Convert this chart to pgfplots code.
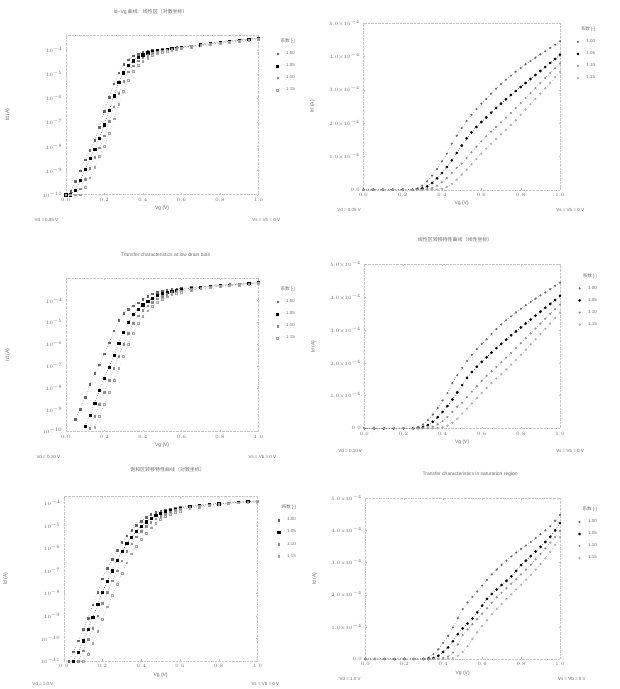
\documentclass[border=0pt]{standalone}
\usepackage{pgfplots}
\pgfplotsset{compat=1.18}
\usepackage{pgfplotstable}
\usepackage{fontspec}
\setmainfont{Liberation Sans}
\newfontfamily\cjk{Noto Sans CJK SC}

\definecolor{ink}{gray}{0.42}

% log10(Id) against Vg, left column
\pgfplotstableread{
x c1 c2 c3 c4
0.000 -10 -10 -10 -10
0.025 -9.85 -10 -10 -10
0.050 -9.45 -9.8 -10 -10
0.075 -9.0 -9.4 -9.75 -10
0.100 -8.55 -8.95 -9.35 -9.7
0.125 -8.15 -8.5 -8.9 -9.3
0.150 -7.75 -8.1 -8.45 -8.85
0.175 -7.2 -7.65 -8.05 -8.4
0.200 -6.55 -7.1 -7.55 -8.0
0.225 -5.95 -6.5 -6.95 -7.45
0.250 -5.4 -5.9 -6.35 -6.85
0.275 -4.95 -5.35 -5.8 -6.25
0.300 -4.6 -4.95 -5.3 -5.7
0.325 -4.4 -4.65 -4.9 -5.25
0.350 -4.25 -4.45 -4.65 -4.9
0.375 -4.17 -4.3 -4.45 -4.65
0.400 -4.1 -4.2 -4.32 -4.47
0.425 -4.06 -4.12 -4.22 -4.33
0.450 -4.02 -4.07 -4.14 -4.23
0.475 -4.0 -4.03 -4.09 -4.15
0.500 -3.97 -4.0 -4.04 -4.09
0.525 -3.95 -3.97 -4.0 -4.04
0.550 -3.92 -3.94 -3.97 -4.0
0.575 -3.9 -3.92 -3.94 -3.96
0.600 -3.87 -3.89 -3.91 -3.93
0.650 -3.82 -3.84 -3.86 -3.88
0.700 -3.77 -3.79 -3.81 -3.83
0.750 -3.72 -3.74 -3.76 -3.78
0.800 -3.67 -3.69 -3.71 -3.73
0.850 -3.62 -3.64 -3.66 -3.68
0.900 -3.58 -3.6 -3.62 -3.64
0.950 -3.54 -3.56 -3.58 -3.6
1.000 -3.50 -3.52 -3.54 -3.56
}\tabTL

\pgfplotstableread{
x c1 c2 c3 c4
0.050 -9.45 nan nan nan
0.075 -9.0 nan nan nan
0.100 -8.45 -9.75 nan nan
0.125 -7.85 -9.25 -9.85 nan
0.150 -7.35 -8.7 -9.3 -9.8
0.175 -6.95 -8.1 -8.75 -9.3
0.200 -6.45 -7.55 -8.2 -8.75
0.225 -5.95 -7.05 -7.65 -8.2
0.250 -5.4 -6.5 -7.1 -7.65
0.275 -4.9 -5.95 -6.55 -7.1
0.300 -4.6 -5.45 -6.0 -6.55
0.325 -4.4 -5.0 -5.5 -6.0
0.350 -4.24 -4.65 -5.05 -5.5
0.375 -4.1 -4.4 -4.7 -5.05
0.400 -3.96 -4.2 -4.45 -4.72
0.425 -3.82 -4.03 -4.25 -4.47
0.450 -3.7 -3.9 -4.08 -4.28
0.475 -3.62 -3.78 -3.93 -4.1
0.500 -3.56 -3.68 -3.8 -3.95
0.525 -3.53 -3.62 -3.71 -3.83
0.550 -3.5 -3.57 -3.64 -3.73
0.575 -3.47 -3.53 -3.59 -3.66
0.600 -3.45 -3.5 -3.55 -3.61
0.650 -3.41 -3.45 -3.49 -3.53
0.700 -3.37 -3.4 -3.44 -3.47
0.750 -3.33 -3.36 -3.39 -3.42
0.800 -3.3 -3.32 -3.35 -3.37
0.850 -3.27 -3.29 -3.31 -3.33
0.900 -3.24 -3.25 -3.27 -3.29
0.950 -3.21 -3.22 -3.24 -3.25
1.000 -3.18 -3.19 -3.2 -3.21
}\tabML

\pgfplotstableread{
x c1 c2 c3 c4
0.025 -11.0 nan nan nan
0.050 -10.6 -11.0 nan nan
0.075 -10.1 -10.6 -11.0 nan
0.100 -9.6 -10.1 -10.55 -11.0
0.125 -9.1 -9.6 -10.05 -10.7
0.150 -8.5 -9.05 -9.55 -10.2
0.175 -7.95 -8.5 -9.0 -9.7
0.200 -7.35 -7.95 -8.45 -9.15
0.225 -6.9 -7.45 -7.95 -8.6
0.250 -6.5 -7.0 -7.45 -8.1
0.275 -6.1 -6.55 -7.0 -7.6
0.300 -5.75 -6.15 -6.55 -7.1
0.325 -5.45 -5.8 -6.15 -6.65
0.350 -5.2 -5.5 -5.8 -6.25
0.375 -4.98 -5.25 -5.5 -5.9
0.400 -4.8 -5.02 -5.25 -5.6
0.425 -4.64 -4.83 -5.03 -5.33
0.450 -4.5 -4.67 -4.85 -5.1
0.475 -4.42 -4.55 -4.7 -4.9
0.500 -4.35 -4.45 -4.58 -4.72
0.525 -4.3 -4.37 -4.48 -4.6
0.550 -4.25 -4.31 -4.4 -4.5
0.575 -4.21 -4.26 -4.33 -4.42
0.600 -4.18 -4.22 -4.28 -4.35
0.650 -4.13 -4.16 -4.2 -4.25
0.700 -4.09 -4.11 -4.14 -4.18
0.750 -4.05 -4.07 -4.09 -4.12
0.800 -4.02 -4.03 -4.05 -4.07
0.850 -3.99 -4.0 -4.01 -4.03
0.900 -3.96 -3.97 -3.98 -3.99
0.950 -3.93 -3.94 -3.95 -3.96
1.000 -3.9 -3.91 -3.92 -3.93
}\tabBL

% Id (x 1e-4 A) against Vg, right column
\pgfplotstableread{
x c1 c2 c3 c4
0.000 0 0 0 0
0.050 0 0 0 0
0.100 0 0 0 0
0.150 0 0 0 0
0.200 0 0 0 0
0.250 0.01 0 0 0
0.275 0.04 0.01 0 0
0.300 0.12 0.04 0 0
0.325 0.25 0.10 0.02 0
0.350 0.42 0.20 0.05 0
0.375 0.62 0.34 0.12 0.01
0.400 0.85 0.50 0.22 0.03
0.425 1.08 0.68 0.35 0.08
0.450 1.38 0.88 0.50 0.17
0.475 1.62 1.10 0.66 0.30
0.500 1.85 1.32 0.78 0.45
0.525 2.06 1.54 0.95 0.60
0.550 2.25 1.72 1.12 0.76
0.575 2.42 1.88 1.29 0.92
0.600 2.58 2.03 1.45 1.08
0.625 2.72 2.17 1.60 1.23
0.650 2.88 2.31 1.74 1.38
0.675 3.03 2.45 1.88 1.52
0.700 3.17 2.58 2.02 1.66
0.725 3.30 2.71 2.16 1.80
0.750 3.42 2.84 2.30 1.94
0.775 3.54 2.96 2.45 2.08
0.800 3.65 3.08 2.60 2.24
0.825 3.76 3.20 2.75 2.40
0.850 3.86 3.32 2.90 2.56
0.875 3.96 3.44 3.05 2.72
0.900 4.06 3.56 3.20 2.88
0.925 4.15 3.68 3.35 3.04
0.950 4.25 3.80 3.50 3.20
0.975 4.35 3.92 3.64 3.37
1.000 4.45 4.05 3.78 3.53
}\tabTR

\pgfplotstableread{
x c1 c2 c3 c4
0.000 0 0 0 0
0.050 0 0 0 0
0.100 0 0 0 0
0.150 0 0 0 0
0.200 0 0 0 0
0.250 0 0 0 0
0.300 0 0 0 0
0.325 0.04 0 0 0
0.350 0.15 0.03 0 0
0.375 0.30 0.10 0.01 0
0.400 0.50 0.22 0.03 0
0.425 0.72 0.36 0.08 0.01
0.450 0.98 0.55 0.20 0.03
0.475 1.27 0.77 0.45 0.10
0.500 1.55 0.95 0.74 0.22
0.525 1.76 1.10 0.92 0.40
0.550 1.93 1.26 1.08 0.62
0.575 2.10 1.45 1.24 0.83
0.600 2.28 1.66 1.41 1.02
0.625 2.46 1.87 1.58 1.20
0.650 2.63 2.02 1.75 1.40
0.675 2.78 2.16 1.92 1.56
0.700 2.93 2.30 2.06 1.71
0.725 3.06 2.43 2.20 1.86
0.750 3.19 2.57 2.34 2.01
0.775 3.31 2.74 2.48 2.16
0.800 3.42 2.92 2.63 2.31
0.825 3.53 3.06 2.78 2.46
0.850 3.64 3.20 2.93 2.62
0.875 3.76 3.34 3.10 2.78
0.900 3.88 3.49 3.27 2.95
0.925 4.00 3.64 3.44 3.13
0.950 4.13 3.80 3.62 3.33
0.975 4.30 4.00 3.80 3.55
1.000 4.48 4.23 3.99 3.79
}\tabBR

\pgfplotsset{
  panel/.style={
    scale only axis, clip=false, anchor=south west,
    xmin=0, xmax=1, xtick={0,0.2,0.4,0.6,0.8,1.0},
    xticklabel style={/pgf/number format/.cd, fixed, fixed zerofill, precision=1},
    axis line style={gray!45, densely dotted},
    major tick length=1.5bp, tick style={gray!50},
    ticklabel style={font=\fontsize{4.5}{5}\selectfont, text=ink},
    xlabel style={font=\fontsize{5}{6}\selectfont, text=ink, yshift=2bp},
    ylabel style={font=\fontsize{5}{6}\selectfont, text=ink},
    xlabel={Vg (V)}, ylabel={Id (A)},
    legend cell align=right,
    legend style={draw=none, fill=none, font=\fontsize{4.5}{5}\selectfont, text=ink, row sep=3.5bp, inner sep=0pt},
    legend image code/.code={\draw[##1] plot coordinates {(0bp,0bp)};},
  },
  leftpanel/.style={panel,
    ylabel style={at={(axis description cs:-0.27,0.5)}},
    cycle list={
      {black!60, line width=0.5pt, dotted, mark=square*, mark size=0.8pt, mark options={solid}},
      {black, line width=0.5pt, dotted, mark=square*, mark size=1.1pt, mark options={solid}},
      {black!45, line width=0.5pt, dotted, mark=square*, mark size=0.8pt, mark options={solid}},
      {black!35, line width=0.5pt, dotted, mark=square, mark size=0.9pt, mark options={solid}}},
  },
  rightpanel/.style={panel,
    ymin=0, ymax=5, ytick={0,1,2,3,4,5},
    yticklabels={$0.0$,$1.0{\times}10^{-4}$,$2.0{\times}10^{-4}$,$3.0{\times}10^{-4}$,$4.0{\times}10^{-4}$,$5.0{\times}10^{-4}$},
    ylabel style={at={(axis description cs:-0.23,0.5)}},
    cycle list={
      {black!60, line width=0.5pt, dotted, mark=*, mark size=0.8pt, mark options={solid}},
      {black, line width=0.5pt, dotted, mark=*, mark size=1.1pt, mark options={solid}},
      {black!45, line width=0.5pt, dotted, mark=*, mark size=0.8pt, mark options={solid}},
      {black!35, line width=0.5pt, dotted, mark=o, mark size=0.9pt, mark options={solid}}},
  },
}

\newcommand{\fourcurves}[1]{%
  \addlegendimage{empty legend}\addlegendentry{{\cjk 系数} [-]}
  \addplot table[x=x, y=c1] {#1}; \addlegendentry{1.00}
  \addplot table[x=x, y=c2] {#1}; \addlegendentry{1.05}
  \addplot table[x=x, y=c3] {#1}; \addlegendentry{1.10}
  \addplot table[x=x, y=c4] {#1}; \addlegendentry{1.15}
}
\newcommand{\cornertext}[4]{%
  \node[font=\fontsize{4.5}{5}\selectfont, text=ink, anchor=west] at (axis description cs:#1) {#2};
  \node[font=\fontsize{4.5}{5}\selectfont, text=ink, anchor=east] at (axis description cs:#3) {#4};
}

\begin{document}
\begin{tikzpicture}
\path (0bp,0bp) rectangle (620bp,689bp);

% top left
\begin{axis}[leftpanel, at={(65bp,494bp)}, width=193bp, height=160bp,
  ymin=-10, ymax=-3.38, ytick={-10,-9,...,-4},
  yticklabels={$10^{-10}$,$10^{-9}$,$10^{-8}$,$10^{-7}$,$10^{-6}$,$10^{-5}$,$10^{-4}$},
  legend style={at={(1.2,0.99)}, anchor=north east}]
\fourcurves{\tabTL}
\cornertext{-0.18,-0.16}{Vd = 0.05 V}{1.13,-0.16}{Vs = Vb = 0 V}
\end{axis}

% top right
\begin{axis}[rightpanel, at={(363bp,499bp)}, width=197bp, height=167bp,
  legend style={at={(1.19,0.99)}, anchor=north east}]
\fourcurves{\tabTR}
\cornertext{-0.15,-0.12}{Vd = 0.05 V}{1.14,-0.12}{Vs = Vb = 0 V}
\end{axis}

% middle left
\begin{axis}[leftpanel, at={(65bp,257bp)}, width=193bp, height=153bp,
  ymin=-10, ymax=-3, ytick={-10,-9,...,-4},
  yticklabels={$10^{-10}$,$10^{-9}$,$10^{-8}$,$10^{-7}$,$10^{-6}$,$10^{-5}$,$10^{-4}$},
  legend style={at={(1.2,0.96)}, anchor=north east}]
\fourcurves{\tabML}
\cornertext{-0.17,-0.17}{Vd = 0.10 V}{1.11,-0.17}{Vs = Vb = 0 V}
\end{axis}

% middle right
\begin{axis}[rightpanel, at={(364bp,260bp)}, width=196bp, height=164bp,
  legend style={at={(1.2,0.96)}, anchor=north east}]
\fourcurves{\tabTR}
\cornertext{-0.15,-0.14}{Vd = 0.10 V}{1.14,-0.14}{Vs = Vb = 0 V}
\end{axis}

% bottom left
\begin{axis}[leftpanel, at={(63bp,27bp)}, width=194bp, height=165bp,
  ymin=-11, ymax=-3.7, ytick={-11,-10,...,-4},
  yticklabels={$10^{-11}$,$10^{-10}$,$10^{-9}$,$10^{-8}$,$10^{-7}$,$10^{-6}$,$10^{-5}$,$10^{-4}$},
  legend style={at={(1.21,0.96)}, anchor=north east}]
\fourcurves{\tabBL}
\cornertext{-0.18,-0.14}{Vd = 1.0 V}{1.13,-0.14}{Vs = Vb = 0 V}
\end{axis}

% bottom right
\begin{axis}[rightpanel, at={(365bp,29bp)}, width=195bp, height=161bp,
  legend style={at={(1.2,0.96)}, anchor=north east}]
\fourcurves{\tabBR}
\cornertext{-0.15,-0.125}{Vd = 1.0 V}{1.15,-0.125}{Vs = Vb = 0 V}
\end{axis}

% panel titles
\begin{scope}[every node/.style={font=\fontsize{5}{6}\selectfont, text=ink}]
\node at (150bp,677bp) {Id--Vg {\cjk 曲线：线性区（对数坐标）}};
\node at (165bp,434bp) {Transfer characteristics at low drain bias};
\node at (455bp,449bp) {{\cjk 线性区转移特性曲线（线性坐标）}};
\node at (167bp,219bp) {{\cjk 饱和区转移特性曲线（对数坐标）}};
\node at (470bp,214bp) {Transfer characteristics in saturation region};
\end{scope}
\end{tikzpicture}
\end{document}
